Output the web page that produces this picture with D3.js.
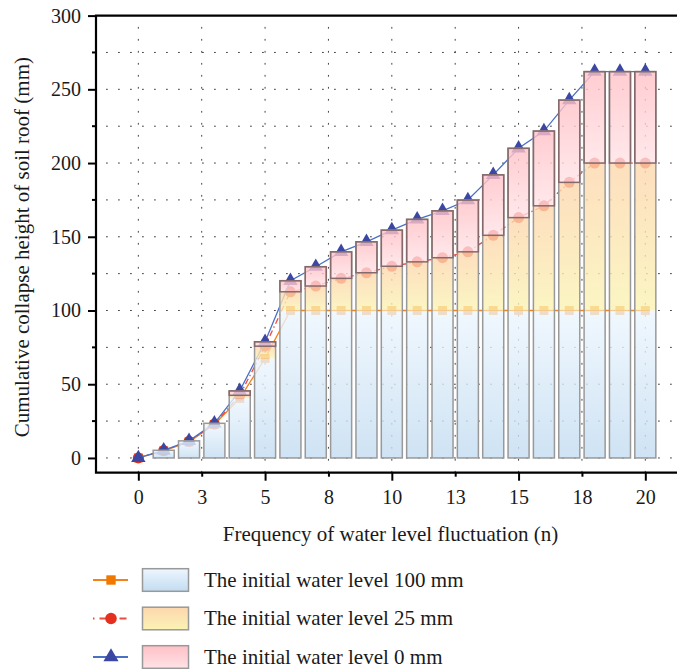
<!DOCTYPE html>
<html>
<head>
<meta charset="utf-8">
<script src="https://cdn.jsdelivr.net/npm/d3@7"></script>
<style>
  body { margin: 0; background: #fff; }
  text { font-family: "Liberation Serif", "DejaVu Serif", serif; fill: #1a1a1a; }
</style>
</head>
<body>
<svg id="chart" width="677" height="669"></svg>
<script>
// frequency of water level fluctuation
const cycles = d3.range(0, 21);
// cumulative collapse height (mm) for each initial water level
const level100 = [0, 4.8, 10.9, 22.7, 40.4, 67.5, 100, 100, 100, 100, 100, 100, 100, 100, 100, 100, 100, 100, 100, 100, 100];
const level25 = [0, 5, 11.3, 23, 42.5, 75.8, 112.7, 116.6, 121.8, 125.6, 130, 133, 135.8, 139.8, 151, 163, 171, 186.9, 200, 200, 200];
const level0 = [0, 5.2, 11.6, 23.5, 45.5, 78.8, 120.2, 129.7, 139.8, 146.6, 154.5, 161.8, 167.6, 174.9, 192, 210, 221.7, 242.7, 262, 262, 262];

const xTicks = d3.range(0, 20.1, 2.5);
const xTickLabels = ["0", "3", "5", "8", "10", "13", "15", "18", "20"];
const yTicks = d3.range(0, 301, 50);
const yMinorTicks = d3.range(25, 300, 50);
const legendLabels = ["The initial water level 100 mm", "The initial water level 25 mm", "The initial water level 0 mm"];

const svg = d3.select("#chart");
const pLeft = 96, pRight = 677, pTop = 15.6, pBottom = 472.7;

const x = d3.scaleLinear().domain([-1.67, 21.25]).range([pLeft, pRight]);
const y = d3.scaleLinear().domain([-10, 300]).range([pBottom, pTop]);

// gradients
const defs = svg.append("defs");
const grads = [
  { id: "gBlue", c: ["#edf6fe", "#c3dcf1"] },
  { id: "gOrange", c: ["#fdd7ae", "#faf3b4"] },
  { id: "gPink", c: ["#ffc0c6", "#ffe3e6"] }
];
grads.forEach(g => {
  const lgr = defs.append("linearGradient").attr("id", g.id)
    .attr("x1", 0).attr("y1", 0).attr("x2", 0).attr("y2", 1);
  lgr.append("stop").attr("offset", "0%").attr("stop-color", g.c[0]);
  lgr.append("stop").attr("offset", "100%").attr("stop-color", g.c[1]);
});

// grid
const grid = svg.append("g").attr("stroke", "#444").attr("stroke-width", 1)
  .attr("stroke-dasharray", "1.8,10.2");
grid.selectAll(".hg").data(d3.range(0, 300, 25)).enter().append("line")
  .attr("x1", pLeft + 10).attr("x2", pRight).attr("y1", d => y(d)).attr("y2", d => y(d));
grid.selectAll(".vg").data(xTicks).enter().append("line")
  .attr("x1", d => x(d)).attr("x2", d => x(d)).attr("y1", pBottom).attr("y2", pTop + 4);

// lines and markers (drawn under the translucent columns)
const series = [
  { data: level100, line: "#f5811c", mark: "#f07800", dash: null, sym: d3.symbolSquare, size: 80 },
  { data: level25, line: "#ee4b42", mark: "#e3301f", dash: "6,3,1.5,3", sym: d3.symbolCircle, size: 95 },
  { data: level0, line: "#4a70c6", mark: "#3c47a3", dash: null, sym: d3.symbolTriangle, size: 90 }
];
const line = d3.line().x((d, i) => x(cycles[i])).y(d => y(d));
series.forEach(s => {
  svg.append("path").attr("d", line(s.data)).attr("fill", "none")
    .attr("stroke", s.line).attr("stroke-width", 1.3)
    .attr("stroke-dasharray", s.dash);
  svg.append("g").selectAll("path").data(s.data).enter().append("path")
    .attr("transform", (d, i) => `translate(${x(cycles[i])},${y(d)})`)
    .attr("d", d3.symbol().type(s.sym).size(s.size)())
    .attr("fill", s.mark);
});

// columns: stacked segments 0 -> 100 mm -> 25 mm -> 0 mm
const bw = (x(1) - x(0)) * 0.83;
const bars = svg.append("g");
const segs = [
  { lo: i => 0, hi: i => level100[i], fill: "url(#gBlue)" },
  { lo: i => level100[i], hi: i => level25[i], fill: "url(#gOrange)" },
  { lo: i => level25[i], hi: i => level0[i], fill: "url(#gPink)" }
];
segs.forEach(sg => {
  bars.append("g").selectAll("rect").data(cycles).enter().append("rect")
    .attr("x", d => x(d) - bw / 2).attr("width", bw)
    .attr("y", d => y(sg.hi(d)))
    .attr("height", d => Math.max(0, y(sg.lo(d)) - y(sg.hi(d))))
    .attr("fill", sg.fill).attr("fill-opacity", 0.8);
});
bars.append("g").selectAll("rect").data(cycles.filter(d => level0[d] > 0)).enter().append("rect")
  .attr("x", d => x(d) - bw / 2).attr("width", bw)
  .attr("y", d => y(level0[d])).attr("height", d => y(0) - y(level0[d]))
  .attr("fill", "none").attr("stroke", "#999").attr("stroke-width", 1.5);
bars.append("g").selectAll("rect").data(cycles.filter(d => level0[d] - level25[d] > 0.5)).enter().append("rect")
  .attr("x", d => x(d) - bw / 2).attr("width", bw)
  .attr("y", d => y(level0[d])).attr("height", d => y(level25[d]) - y(level0[d]))
  .attr("fill", "none").attr("stroke", "#86696a").attr("stroke-width", 1.5);

// axes
const yAxis = d3.axisLeft(y).tickValues(yTicks).tickSize(8).tickPadding(7);
const yG = svg.append("g").attr("transform", `translate(${pLeft},0)`).call(yAxis);
yG.append("g").selectAll("line").data(yMinorTicks).enter().append("line")
  .attr("x1", -4).attr("x2", 0).attr("y1", d => y(d)).attr("y2", d => y(d))
  .attr("stroke", "#000").attr("stroke-width", 2);
const xAxis = d3.axisBottom(x).tickValues(xTicks).tickSize(8).tickPadding(10)
  .tickFormat((d, i) => xTickLabels[i]);
const xG = svg.append("g").attr("transform", `translate(0,${pBottom})`).call(xAxis);
xG.selectAll(".tick line").attr("y2", d => d % 5 === 0 ? 8 : 4);
[yG, xG].forEach(g => {
  g.select(".domain").remove();
  g.selectAll(".tick line").attr("stroke", "#000").attr("stroke-width", 2);
  g.selectAll(".tick text").attr("font-size", 20).attr("font-family", "Liberation Serif").attr("fill", "#1a1a1a");
});
xG.selectAll(".tick text").attr("dy", "0.68em");

svg.append("path")
  .attr("d", `M${pRight},${pTop}H${pLeft}V${pBottom}H${pRight}`)
  .attr("fill", "none").attr("stroke", "#000").attr("stroke-width", 2.2);

// axis titles
svg.append("text").attr("x", (pLeft + pRight) / 2 + 4).attr("y", 541)
  .attr("text-anchor", "middle").attr("font-size", 21)
  .text("Frequency of water level fluctuation (n)");
svg.append("text").attr("transform", `translate(29,${(pTop + pBottom) / 2 + 3}) rotate(-90)`)
  .attr("text-anchor", "middle").attr("font-size", 21)
  .text("Cumulative collapse height of soil roof (mm)");

// legend
const rowsY = [580, 618.5, 657];
const lg = svg.append("g");
series.forEach((s, i) => {
  const cy = rowsY[i];
  lg.append("line").attr("x1", 93).attr("x2", 128).attr("y1", cy).attr("y2", cy)
    .attr("stroke", s.line).attr("stroke-width", 2)
    .attr("stroke-dasharray", s.dash ? "1.5,5,7,13,7" : null);
  lg.append("path").attr("transform", `translate(111,${cy})`)
    .attr("d", d3.symbol().type(s.sym).size(s.size * 1.1)()).attr("fill", s.mark);
  lg.append("rect").attr("x", 142.5).attr("y", cy - 11.3).attr("width", 46).attr("height", 22.6)
    .attr("fill", segs[i].fill).attr("stroke", "#999").attr("stroke-width", 1.5);
  lg.append("text").attr("x", 204).attr("y", cy + 6.5).attr("font-size", 21).text(legendLabels[i]);
});
</script>
</body>
</html>
